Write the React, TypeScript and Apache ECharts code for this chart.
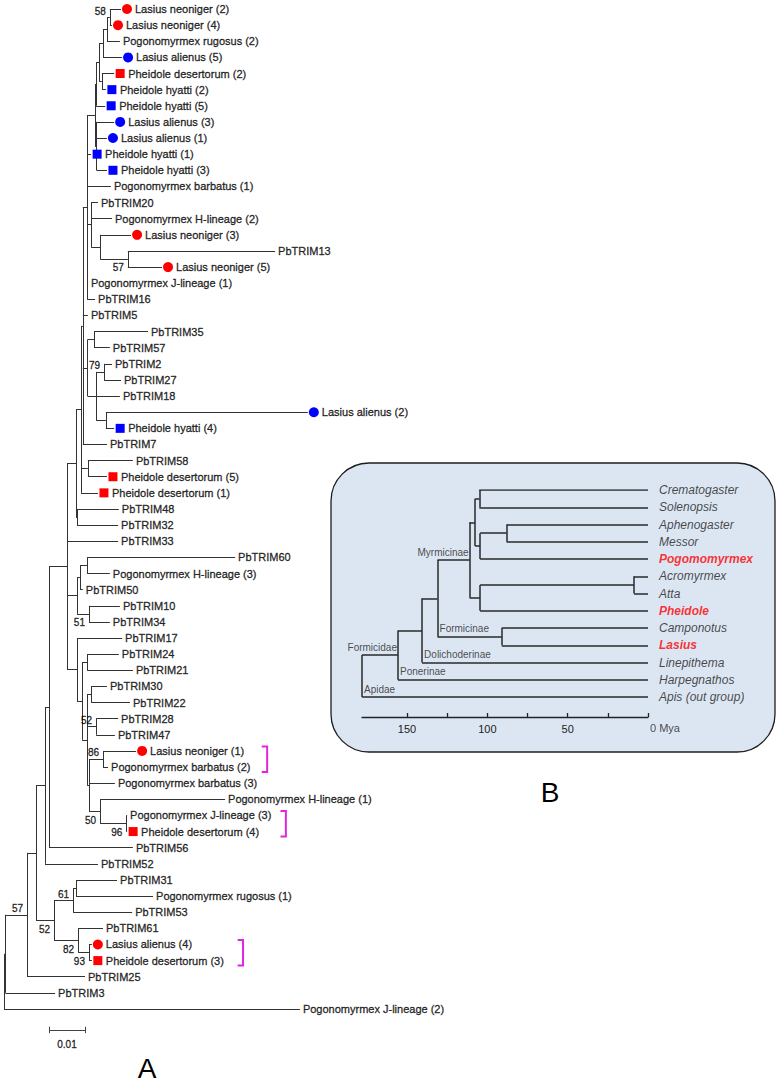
import React, { useEffect, useRef } from "react";
import * as echarts from "echarts";

// ---------- Panel A: gene tree (branch lengths in substitutions/site) ----------
const leafNames = [
  "Lasius neoniger (2)", "Lasius neoniger (4)", "Pogonomyrmex rugosus (2)", "Lasius alienus (5)",
  "Pheidole desertorum (2)", "Pheidole hyatti (2)", "Pheidole hyatti (5)", "Lasius alienus (3)",
  "Lasius alienus (1)", "Pheidole hyatti (1)", "Pheidole hyatti (3)", "Pogonomyrmex barbatus (1)",
  "PbTRIM20", "Pogonomyrmex H-lineage (2)", "Lasius neoniger (3)", "PbTRIM13",
  "Lasius neoniger (5)", "Pogonomyrmex J-lineage (1)", "PbTRIM16", "PbTRIM5",
  "PbTRIM35", "PbTRIM57", "PbTRIM2", "PbTRIM27",
  "PbTRIM18", "Lasius alienus (2)", "Pheidole hyatti (4)", "PbTRIM7",
  "PbTRIM58", "Pheidole desertorum (5)", "Pheidole desertorum (1)", "PbTRIM48",
  "PbTRIM32", "PbTRIM33", "PbTRIM60", "Pogonomyrmex H-lineage (3)",
  "PbTRIM50", "PbTRIM10", "PbTRIM34", "PbTRIM17",
  "PbTRIM24", "PbTRIM21", "PbTRIM30", "PbTRIM22",
  "PbTRIM28", "PbTRIM47", "Lasius neoniger (1)", "Pogonomyrmex barbatus (2)",
  "Pogonomyrmex barbatus (3)", "Pogonomyrmex H-lineage (1)", "Pogonomyrmex J-lineage (3)", "Pheidole desertorum (4)",
  "PbTRIM56", "PbTRIM52", "PbTRIM31", "Pogonomyrmex rugosus (1)",
  "PbTRIM53", "PbTRIM61", "Lasius alienus (4)", "Pheidole desertorum (3)",
  "PbTRIM25", "PbTRIM3", "Pogonomyrmex J-lineage (2)",
];

// rc = red circle, bc = blue circle, rs = red square, bs = blue square
const leafMarks = [
  "rc", "rc", "", "bc", "rs", "bs", "bs", "bc",
  "bc", "bs", "bs", "", "", "", "rc", "",
  "rc", "", "", "", "", "", "", "",
  "", "bc", "bs", "", "", "rs", "rs", "",
  "", "", "", "", "", "", "", "",
  "", "", "", "", "", "", "rc", "",
  "", "", "", "rs", "", "", "", "",
  "", "", "rc", "rs", "", "", "",
];

const leafParents = [
  "n58", "n58", "nPR", "nLA5", "nPD2", "nPD2", "n96t", "n97",
  "n97", "n86", "n97", "n86", "n91", "n91", "n100", "n57",
  "n57", "n86", "n86", "n83", "n94", "n94", "n104", "n104",
  "n96b", "n106", "n106", "n83", "n88", "n88", "n81", "n76",
  "n76", "n68", "n87a", "n87a", "n80", "n89", "n89", "n77b",
  "n87c", "n87c", "n91c", "n91c", "n97c", "n97c", "n103", "n103",
  "n89c", "n100c", "n128", "n128", "n49", "n45", "n76r", "n76r",
  "n73", "n78", "n89d", "n89d", "n27", "n5", "root",
];

const leafDist = [
  0.0325, 0.0300, 0.0322, 0.0328, 0.0306, 0.0283, 0.0281, 0.0306,
  0.0286, 0.0242, 0.0286, 0.0297, 0.0261, 0.0300, 0.0353, 0.0753,
  0.0439, 0.0233, 0.0253, 0.0233, 0.0400, 0.0294, 0.0300, 0.0325,
  0.0322, 0.0844, 0.0306, 0.0286, 0.0358, 0.0286, 0.0261, 0.0319,
  0.0317, 0.0317, 0.0642, 0.0294, 0.0219, 0.0322, 0.0294, 0.0328,
  0.0319, 0.0358, 0.0286, 0.0350, 0.0317, 0.0308, 0.0367, 0.0289,
  0.0308, 0.0614, 0.0342, 0.0342, 0.0358, 0.0261, 0.0314, 0.0414,
  0.0356, 0.0275, 0.0244, 0.0244, 0.0225, 0.0142, 0.0822,
];

const nodeIds = [
  "root", "n5", "n27", "n36", "n45", "n49", "n68", "n77c", "n81", "n83", "n86", "n95",
  "n96t", "n99", "nLA5", "nPR", "n58", "nPD2", "n97", "n91", "n100", "n57", "n87b", "n94",
  "n96b", "n104", "n106", "n88", "n76", "n77a", "n80", "n87a", "n89", "n77b", "n82b", "n87c",
  "n87d", "n91c", "n97c", "n89c", "n103", "n100c", "n128", "n54", "n73", "n76r", "n78", "n89d",
];
const nodeParents = [
  "", "root", "n5", "n27", "n36", "n45", "n49", "n68", "n77c", "n81", "n83", "n86",
  "n95", "n96t", "n99", "nLA5", "nPR", "n99", "n95", "n86", "n91", "n100", "n83", "n87b",
  "n87b", "n96b", "n96b", "n81", "n77c", "n68", "n77a", "n80", "n77a", "n68", "n77b", "n82b",
  "n82b", "n87d", "n87d", "n87d", "n89c", "n89c", "n100c", "n36", "n54", "n73", "n54", "n78",
];
const nodeDist = [
  0, 0.0004, 0.0064, 0.0089, 0.0114, 0.0125, 0.0175, 0.0200, 0.0214, 0.0219, 0.0231, 0.0253,
  0.0256, 0.0264, 0.0275, 0.0286, 0.0294, 0.0272, 0.0257, 0.0242, 0.0267, 0.0344, 0.0232, 0.0250,
  0.0256, 0.0278, 0.0283, 0.0233, 0.0203, 0.0203, 0.0211, 0.0231, 0.0236, 0.0203, 0.0217, 0.0231,
  0.0231, 0.0242, 0.0256, 0.0236, 0.0275, 0.0267, 0.0340, 0.0139, 0.0192, 0.0200, 0.0206, 0.0236,
];

// bootstrap support
const supportNodes = ["n27", "n58", "n57", "n104", "n89", "n97c", "n103", "n100c", "n128", "n73", "n54", "n78", "n89d"];
const supportValues = [57, 58, 57, 79, 51, 52, 86, 50, 96, 61, 52, 82, 93];
const supportBelow = [false, false, true, false, true, false, false, true, true, false, true, true, true];

// highlighted pairs (first leaf row, last leaf row, distance where the bracket sits)
const bracketFirst = [46, 50, 58];
const bracketLast = [47, 51, 59];
const bracketAt = [0.0731, 0.0783, 0.0664];

// scale bar
const scaleStart = 0.0125;
const scaleLength = 0.01;
const scaleRow = 63.3;

// ---------- Panel B: species tree (Mya) ----------
const insetTaxa = [
  "Crematogaster", "Solenopsis", "Aphenogaster", "Messor", "Pogomomyrmex", "Acromyrmex", "Atta",
  "Pheidole", "Camponotus", "Lasius", "Linepithema", "Harpegnathos", "Apis (out group)",
];
const insetHighlight = [false, false, false, false, true, false, false, true, false, true, false, false, false];
const insetTaxonParents = ["iCS", "iCS", "iAM", "iAM", "iAMP", "iAA", "iAA", "iAAP", "iFor", "iFor", "iDol", "iFormicidae", "iRoot"];
const insetTaxonAge = [0, 0, 0, 0, 0, 0, 0, 0, 0, 0, 0, 0, 0];
const insetNodeIds = ["iRoot", "iFormicidae", "iDol", "iMF", "iMyr", "iCSAMP", "iCS", "iAMP", "iAM", "iAAP", "iAA", "iFor"];
const insetNodeParents = ["", "iRoot", "iFormicidae", "iDol", "iMF", "iMyr", "iCSAMP", "iCSAMP", "iAMP", "iMyr", "iAAP", "iMF"];
const insetNodeAge = [178, 155.6, 140.6, 131, 111, 107.6, 105, 104.5, 88, 104.5, 8.7, 91];
const cladeNames = ["Myrmicinae", "Formicinae", "Dolichoderinae", "Ponerinae", "Formicidae", "Apidae"];
const cladeTargets = ["iMyr", "iFor", "Linepithema", "Harpegnathos", "iFormicidae", "Apis (out group)"];
const cladeAtNode = [true, false, false, false, true, false];
const ageTicks = [150, 125, 100, 75, 50, 25, 0];
const ageLabels = [150, 100, 50];
const ageMax = 178;

const FONT = "'Liberation Sans', Arial, Helvetica, sans-serif";
const RED = "#ff0000";
const BLUE = "#0000ff";

function buildTree(lp: string[], lx: number[], ids: string[], np: string[], nx: number[]) {
  const index = new Map<string, number>();
  ids.forEach((id, i) => index.set(id, i));
  const leafKids: number[][] = ids.map(() => []);
  const nodeKids: number[][] = ids.map(() => []);
  lp.forEach((p, i) => leafKids[index.get(p)!].push(i));
  np.forEach((p, i) => {
    if (p) nodeKids[index.get(p)!].push(i);
  });
  const nodeY: number[] = ids.map(() => NaN);
  const yOf = (n: number): number => {
    if (!Number.isNaN(nodeY[n])) return nodeY[n];
    const ys = [...leafKids[n], ...nodeKids[n].map(yOf)];
    nodeY[n] = (Math.min(...ys) + Math.max(...ys)) / 2;
    return nodeY[n];
  };
  ids.forEach((_, i) => yOf(i));
  const segs: number[][][] = [];
  lp.forEach((p, i) => segs.push([[nx[index.get(p)!], i], [lx[i], i]]));
  ids.forEach((_, i) => {
    const p = np[i];
    if (p) segs.push([[nx[index.get(p)!], nodeY[i]], [nx[i], nodeY[i]]]);
    const ys = [...leafKids[i], ...nodeKids[i].map((k) => nodeY[k])];
    segs.push([[nx[i], Math.min(...ys)], [nx[i], Math.max(...ys)]]);
  });
  return { index, nodeY, segs };
}

export default function App() {
  const ref = useRef<HTMLDivElement>(null);
  useEffect(() => {
    if (!ref.current) return;
    const chart = echarts.init(ref.current, undefined, { renderer: "svg" });
    const main = buildTree(leafParents, leafDist, nodeIds, nodeParents, nodeDist);
    const inset = buildTree(insetTaxonParents, insetTaxonAge, insetNodeIds, insetNodeParents, insetNodeAge);

    const brackets = bracketFirst.map((f, k) => {
      const x = bracketAt[k];
      const arm = 0.0015;
      const y0 = f - 0.28;
      const y1 = bracketLast[k] + 0.3;
      return { coords: [[x - arm, y0], [x, y0], [x, y1], [x - arm, y1]] };
    });

    const scaleSegs = [
      [[scaleStart, scaleRow], [scaleStart + scaleLength, scaleRow]],
      [[scaleStart, scaleRow - 0.2], [scaleStart, scaleRow + 0.2]],
      [[scaleStart + scaleLength, scaleRow - 0.2], [scaleStart + scaleLength, scaleRow + 0.2]],
    ];

    const cladeData = cladeNames.map((name, k) => {
      const t = cladeTargets[k];
      let ty: number;
      let tx: number;
      let px: number;
      if (inset.index.has(t)) {
        const n = inset.index.get(t)!;
        ty = inset.nodeY[n];
        tx = insetNodeAge[n];
        px = insetNodeAge[inset.index.get(insetNodeParents[n])!];
      } else {
        const li = insetTaxa.indexOf(t);
        ty = li;
        tx = insetTaxonAge[li];
        px = insetNodeAge[inset.index.get(insetTaxonParents[li])!];
      }
      return cladeAtNode[k]
        ? { value: [tx, ty], name, label: { position: "left", distance: 1, offset: [0, -8] } }
        : { value: [px, ty], name, label: { position: "right", distance: 2, offset: [0, -8] } };
    });

    const insetYMax = 227 / 17.25;
    const textInk = { textBorderColor: "#000", textBorderWidth: 0.35 };
    const noInk = { textBorderWidth: 0 };

    const option: any = {
      animation: false,
      backgroundColor: "#ffffff",
      grid: [
        { left: 4, top: 9, width: 720, height: 1064.5 },
        { left: 362, top: 490, width: 286, height: 227 },
      ],
      xAxis: [
        { type: "value", gridIndex: 0, min: 0, max: 0.2, show: false },
        {
          type: "value",
          gridIndex: 1,
          min: 0,
          max: ageMax,
          inverse: true,
          z: 5,
          axisLine: { show: true, onZero: false, lineStyle: { color: "#222", width: 1.3 } },
          axisTick: { show: true, inside: true, length: 4, customValues: ageTicks, lineStyle: { color: "#222", width: 1.3 } },
          axisLabel: { show: true, customValues: ageLabels, fontSize: 11, color: "#222", fontFamily: FONT, margin: 6 },
          splitLine: { show: false },
        },
      ],
      yAxis: [
        { type: "value", gridIndex: 0, min: 0, max: 66, inverse: true, show: false },
        { type: "value", gridIndex: 1, min: 0, max: insetYMax, inverse: true, show: false },
      ],
      graphic: [
        {
          type: "rect",
          z: -10,
          silent: true,
          shape: { x: 331, y: 463, width: 444, height: 289, r: 38 },
          style: { fill: "#dce6f2", stroke: "#1e1e1e", lineWidth: 1.3 },
        },
        {
          type: "text",
          x: 147,
          y: 1068,
          style: { text: "A", fontSize: 28, fontFamily: FONT, fill: "#000", textAlign: "center", textVerticalAlign: "middle" },
        },
        {
          type: "text",
          x: 550,
          y: 792,
          style: { text: "B", fontSize: 28, fontFamily: FONT, fill: "#000", textAlign: "center", textVerticalAlign: "middle" },
        },
      ],
      series: [
        {
          type: "lines",
          coordinateSystem: "cartesian2d",
          xAxisIndex: 0,
          yAxisIndex: 0,
          silent: true,
          lineStyle: { color: "#333", width: 1, opacity: 1 },
          data: main.segs.map((c) => ({ coords: c })),
        },
        {
          type: "scatter",
          xAxisIndex: 0,
          yAxisIndex: 0,
          silent: true,
          symbolOffset: [6, 0],
          itemStyle: { opacity: 1 },
          data: leafMarks
            .map((m, i) =>
              m
                ? {
                    value: [leafDist[i], i],
                    symbol: m[1] === "c" ? "circle" : "rect",
                    symbolSize: m[1] === "c" ? 10 : 9,
                    itemStyle: { color: m[0] === "r" ? RED : BLUE, opacity: 1 },
                  }
                : null
            )
            .filter(Boolean),
        },
        {
          type: "scatter",
          xAxisIndex: 0,
          yAxisIndex: 0,
          silent: true,
          symbolSize: 0,
          label: { show: true, position: "right", formatter: "{b}", fontSize: 11, color: "#000", fontFamily: FONT, ...textInk },
          data: leafNames.map((n, i) => ({ value: [leafDist[i], i], name: n, label: { distance: leafMarks[i] ? 14 : 3 } })),
        },
        {
          type: "scatter",
          xAxisIndex: 0,
          yAxisIndex: 0,
          silent: true,
          symbolSize: 0,
          label: { show: true, position: "left", distance: 4, formatter: "{b}", fontSize: 10, color: "#000", fontFamily: FONT, ...textInk },
          data: supportNodes.map((id, k) => {
            const n = main.index.get(id)!;
            return { value: [nodeDist[n], main.nodeY[n]], name: String(supportValues[k]), label: { offset: [0, supportBelow[k] ? 9 : -6] } };
          }),
        },
        {
          type: "lines",
          coordinateSystem: "cartesian2d",
          xAxisIndex: 0,
          yAxisIndex: 0,
          polyline: true,
          silent: true,
          lineStyle: { color: "#e026e0", width: 2, opacity: 1 },
          data: brackets,
        },
        {
          type: "lines",
          coordinateSystem: "cartesian2d",
          xAxisIndex: 0,
          yAxisIndex: 0,
          silent: true,
          lineStyle: { color: "#444", width: 1, opacity: 1 },
          data: scaleSegs.map((c) => ({ coords: c })),
        },
        {
          type: "scatter",
          xAxisIndex: 0,
          yAxisIndex: 0,
          silent: true,
          symbolSize: 0,
          itemStyle: { color: "#000" },
          label: { show: true, position: "bottom", distance: 10, formatter: "{b}", fontSize: 10, color: "#000", fontFamily: FONT, ...textInk },
          data: [{ value: [scaleStart + scaleLength / 2, scaleRow], name: String(scaleLength) }],
        },
        {
          type: "lines",
          coordinateSystem: "cartesian2d",
          xAxisIndex: 1,
          yAxisIndex: 1,
          silent: true,
          z: 3,
          lineStyle: { color: "#2a2a2a", width: 1.5, opacity: 1 },
          data: inset.segs.map((c) => ({ coords: c })),
        },
        {
          type: "scatter",
          xAxisIndex: 1,
          yAxisIndex: 1,
          silent: true,
          symbolSize: 0,
          z: 3,
          itemStyle: { color: "#1a1a1a" },
          label: { show: true, position: "right", distance: 11, formatter: "{b}", fontSize: 12, fontStyle: "italic", color: "#1a1a1a", fontFamily: FONT, ...noInk },
          data: insetTaxa.map((t, i) => ({
            value: [insetTaxonAge[i], i],
            name: t,
            label: insetHighlight[i] ? { color: RED, fontWeight: "bold" } : {},
          })),
        },
        {
          type: "scatter",
          xAxisIndex: 1,
          yAxisIndex: 1,
          silent: true,
          symbolSize: 0,
          z: 3,
          itemStyle: { color: "#222" },
          label: { show: true, formatter: "{b}", fontSize: 10, color: "#222", fontFamily: FONT, ...noInk },
          data: cladeData,
        },
        {
          type: "scatter",
          xAxisIndex: 1,
          yAxisIndex: 1,
          silent: true,
          symbolSize: 0,
          z: 3,
          itemStyle: { color: "#222" },
          label: { show: true, position: [2, 5], formatter: "{b}", fontSize: 11, color: "#222", fontFamily: FONT, ...noInk },
          data: [{ value: [0, insetYMax], name: "0 Mya" }],
        },
      ],
    };
    chart.setOption(option);
    return () => chart.dispose();
  }, []);
  return <div ref={ref} style={{ position: "absolute", left: 0, top: 0, width: 779, height: 1082 }} />;
}
